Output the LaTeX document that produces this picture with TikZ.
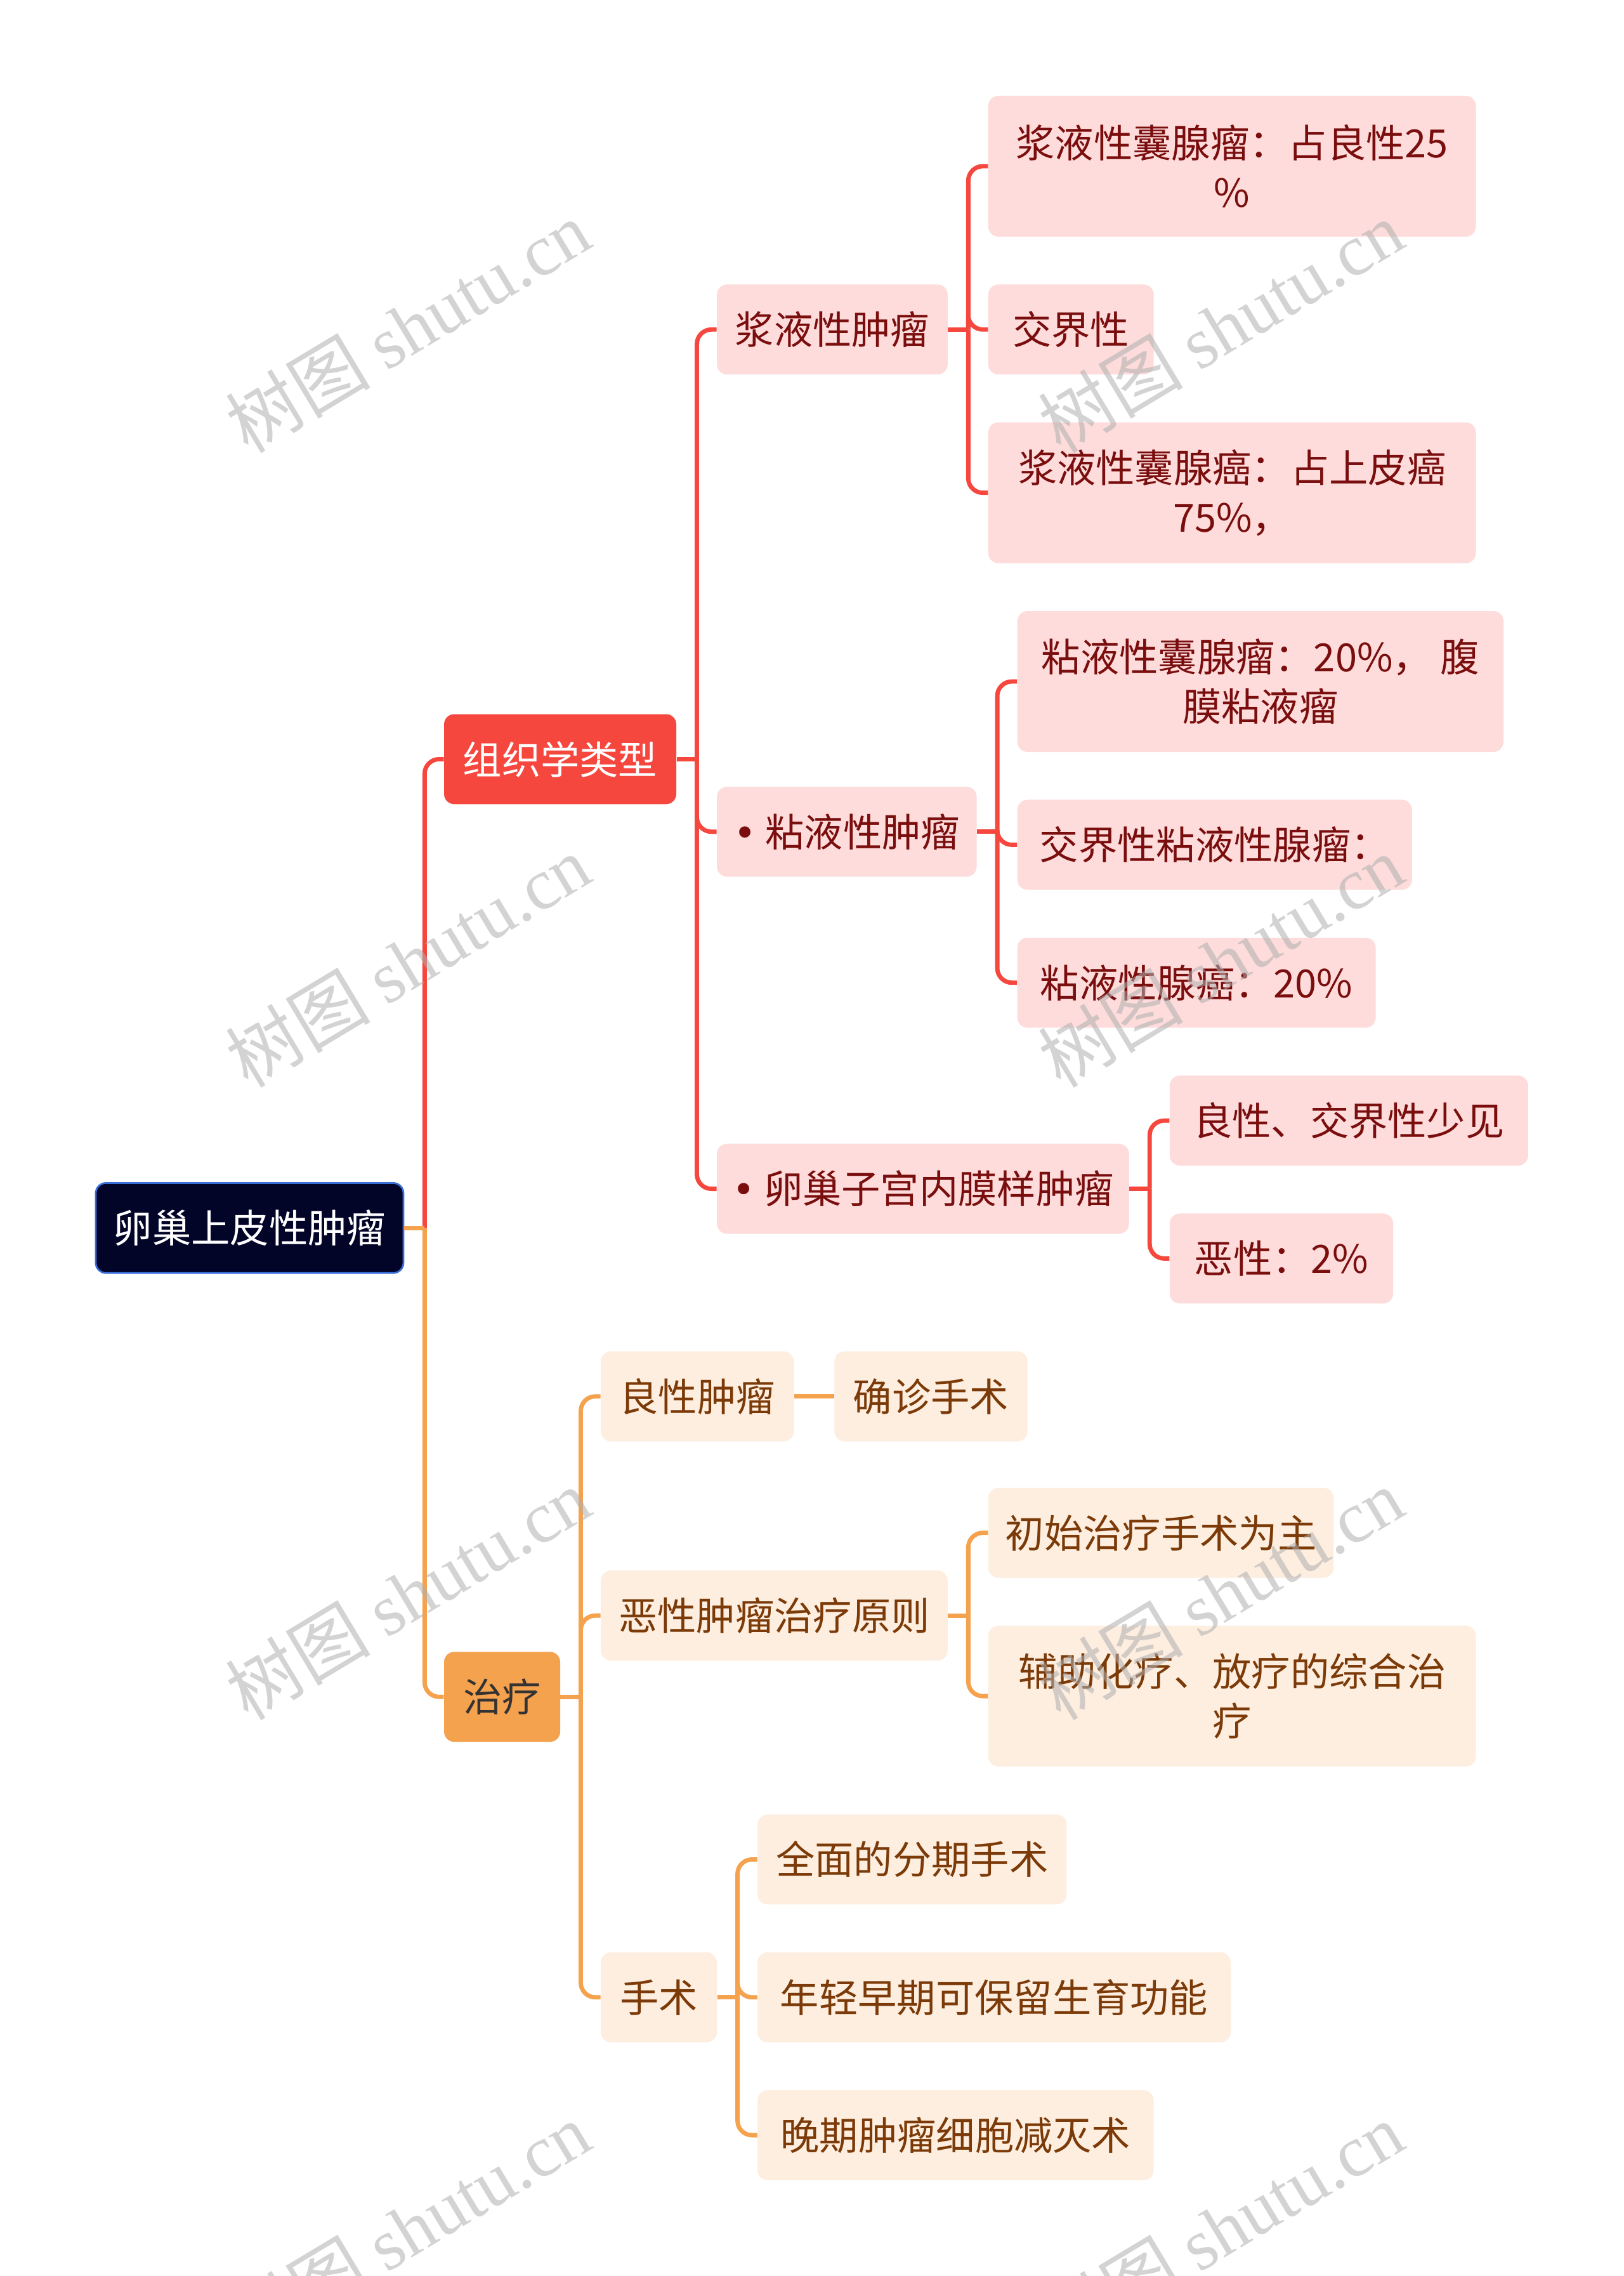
\documentclass[tikz,border=0pt]{standalone}
\usepackage{fontspec}
\setmainfont{Noto Sans CJK SC}
\newfontfamily\wmfont{Liberation Serif}
\newfontfamily\symfont{DejaVu Sans}
\usetikzlibrary{calc}
\definecolor{rootfill}{HTML}{020428}
\definecolor{rootborder}{HTML}{3B6FD8}
\definecolor{redmain}{HTML}{F5473E}
\definecolor{pinkfill}{HTML}{FDDCDB}
\definecolor{redtext}{HTML}{7A0E0E}
\definecolor{orangemain}{HTML}{F5A24F}
\definecolor{peachfill}{HTML}{FDEEDF}
\definecolor{browntext}{HTML}{7B3A08}
\definecolor{darktext}{HTML}{333333}
\definecolor{wmgray}{HTML}{B0B0B0}
\begin{document}
\begin{tikzpicture}[x=1pt,y=-1pt,
  box/.style={rounded corners=7pt, inner sep=0pt, minimum height=62pt, align=center, font=\fontsize{26.8}{34}\selectfont},
  tallbox/.style={box, minimum height=97pt},
  rootbox/.style={box, fill=rootfill, draw=rootborder, line width=1.2pt, text=white},
  redbox/.style={box, fill=redmain, text=white},
  orangebox/.style={box, fill=orangemain, text=darktext},
  pinkbox/.style={box, fill=pinkfill, text=redtext},
  peachbox/.style={box, fill=peachfill, text=browntext},
  redline/.style={draw=redmain, line width=3pt},
  orangeline/.style={draw=orangemain, line width=3pt},
  link/.style={rounded corners=10pt},
  wm/.style={rotate=31, text=wmgray, text opacity=0.55, font=\fontsize{50}{50}\selectfont, inner sep=0pt},
]
\useasboundingbox (0,0) rectangle (1119,1568);
\fill[white] (0,0) rectangle (1119,1568);

% ---- nodes ----
\node[rootbox, minimum width=212pt] (root) at (172,846) {卵巢上皮性肿瘤};
\node[redbox, minimum width=160pt] (zx) at (386,523) {组织学类型};
\node[orangebox, minimum width=80pt] (zl) at (346,1169) {治疗};

\node[pinkbox, minimum width=159pt] (a) at (573.5,227) {浆液性肿瘤};
\node[pinkbox, minimum width=179pt] (b) at (583.5,573) {{\symfont •}\hspace{6pt}粘液性肿瘤};
\node[pinkbox, minimum width=284pt] (c) at (636,819) {{\symfont •}\hspace{6pt}卵巢子宫内膜样肿瘤};

\node[pinkbox, tallbox, minimum width=336pt] (a1) at (849,114.5) {浆液性囊腺瘤：占良性25\\\%};
\node[pinkbox, minimum width=114pt] (a2) at (738,227) {交界性};
\node[pinkbox, tallbox, minimum width=336pt] (a3) at (849,339.5) {浆液性囊腺癌：占上皮癌\\75\%，};

\node[pinkbox, tallbox, minimum width=335pt] (b1) at (868.5,469.5) {粘液性囊腺瘤：20\%， 腹\\膜粘液瘤};
\node[pinkbox, minimum width=272pt] (b2) at (837,582) {交界性粘液性腺瘤：};
\node[pinkbox, minimum width=247pt] (b3) at (824.5,677) {粘液性腺癌：20\%};

\node[pinkbox, minimum width=247pt] (c1) at (929.5,772) {良性、交界性少见};
\node[pinkbox, minimum width=154pt] (c2) at (883,867) {恶性：2\%};

\node[peachbox, minimum width=133pt] (d) at (480.5,962) {良性肿瘤};
\node[peachbox, minimum width=133pt] (d1) at (641.5,962) {确诊手术};
\node[peachbox, minimum width=239pt] (e) at (533.5,1113) {恶性肿瘤治疗原则};
\node[peachbox, minimum width=238pt] (e1) at (800,1056) {初始治疗手术为主};
\node[peachbox, tallbox, minimum width=336pt] (e2) at (849,1168.5) {辅助化疗、放疗的综合治\\疗};
\node[peachbox, minimum width=80pt] (f) at (454,1376) {手术};
\node[peachbox, minimum width=213pt] (f1) at (628.5,1281) {全面的分期手术};
\node[peachbox, minimum width=326pt] (f2) at (685,1376) {年轻早期可保留生育功能};
\node[peachbox, minimum width=273pt] (f3) at (658.5,1471) {晚期肿瘤细胞减灭术};

% ---- spine points ----
\coordinate (s0) at ($(root.east)+(14,0)$);
\coordinate (s1) at ($(zx.east)+(14,0)$);
\coordinate (s2) at ($(a.east)+(14,0)$);
\coordinate (s3) at ($(b.east)+(14,0)$);
\coordinate (s4) at ($(c.east)+(14,0)$);
\coordinate (s5) at ($(zl.east)+(14,0)$);
\coordinate (s6) at ($(e.east)+(14,0)$);
\coordinate (s7) at ($(f.east)+(14,0)$);

% ---- red branch ----
\draw[redline, link] (s0) |- (zx.west);
\draw[redline] (zx.east) -- (s1);
\draw[redline, link] (s1) |- (a.west);
\draw[redline, link] (s1) |- (b.west);
\draw[redline, link] (s1) |- (c.west);
\draw[redline] (a.east) -- (s2);
\draw[redline, link] (s2) |- (a1.west);
\draw[redline, link] (s2) |- (a2.west);
\draw[redline, link] (s2) |- (a3.west);
\draw[redline] (b.east) -- (s3);
\draw[redline, link] (s3) |- (b1.west);
\draw[redline, link] (s3) |- (b2.west);
\draw[redline, link] (s3) |- (b3.west);
\draw[redline] (c.east) -- (s4);
\draw[redline, link] (s4) |- (c1.west);
\draw[redline, link] (s4) |- (c2.west);

% ---- orange branch ----
\draw[orangeline, link] (s0) |- (zl.west);
\draw[orangeline] (root.east) -- (s0);
\draw[orangeline] (zl.east) -- (s5);
\draw[orangeline, link] (s5) |- (d.west);
\draw[orangeline, link] (s5) |- (e.west);
\draw[orangeline, link] (s5) |- (f.west);
\draw[orangeline] (d.east) -- (d1.west);
\draw[orangeline] (e.east) -- (s6);
\draw[orangeline, link] (s6) |- (e1.west);
\draw[orangeline, link] (s6) |- (e2.west);
\draw[orangeline] (f.east) -- (s7);
\draw[orangeline, link] (s7) |- (f1.west);
\draw[orangeline, link] (s7) |- (f2.west);
\draw[orangeline, link] (s7) |- (f3.west);

% ---- watermarks ----
\begin{scope}
\clip (0,0) rectangle (1119,1568);
\node[wm] (w1) at (281,225) {树图 {\wmfont shutu.cn}};
\node[wm] (w2) at (841,225) {树图 {\wmfont shutu.cn}};
\node[wm] (w3) at (281,662) {树图 {\wmfont shutu.cn}};
\node[wm] (w4) at (841,662) {树图 {\wmfont shutu.cn}};
\node[wm] (w5) at (281,1098) {树图 {\wmfont shutu.cn}};
\node[wm] (w6) at (841,1098) {树图 {\wmfont shutu.cn}};
\node[wm] (w7) at (281,1535) {树图 {\wmfont shutu.cn}};
\node[wm] (w8) at (841,1535) {树图 {\wmfont shutu.cn}};
\end{scope}
\end{tikzpicture}
\end{document}
